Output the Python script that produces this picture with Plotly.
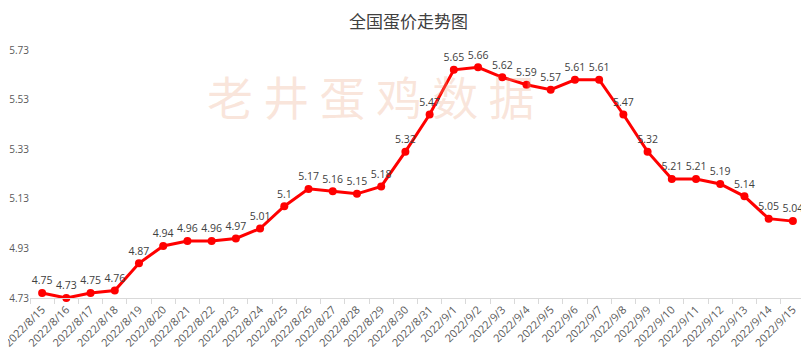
import plotly.graph_objects as go

dates = ["2022/8/15", "2022/8/16", "2022/8/17", "2022/8/18", "2022/8/19", "2022/8/20",
         "2022/8/21", "2022/8/22", "2022/8/23", "2022/8/24", "2022/8/25", "2022/8/26",
         "2022/8/27", "2022/8/28", "2022/8/29", "2022/8/30", "2022/8/31", "2022/9/1",
         "2022/9/2", "2022/9/3", "2022/9/4", "2022/9/5", "2022/9/6", "2022/9/7",
         "2022/9/8", "2022/9/9", "2022/9/10", "2022/9/11", "2022/9/12", "2022/9/13",
         "2022/9/14", "2022/9/15"]
prices = [4.75, 4.73, 4.75, 4.76, 4.87, 4.94, 4.96, 4.96, 4.97, 5.01, 5.1, 5.17,
          5.16, 5.15, 5.18, 5.32, 5.47, 5.65, 5.66, 5.62, 5.59, 5.57, 5.61, 5.61,
          5.47, 5.32, 5.21, 5.21, 5.19, 5.14, 5.05, 5.04]
y_ticks = [4.73, 4.93, 5.13, 5.33, 5.53, 5.73]
title = "全国蛋价走势图"
watermark = "老 井 蛋 鸡 数 据"

fig = go.Figure()
fig.add_trace(go.Scatter(
    x=dates, y=prices, mode="lines+markers+text",
    line=dict(color="#FF0000", width=3),
    marker=dict(color="#FF0000", size=8),
    text=[f"{v:g}" for v in prices], textposition="top center",
    textfont=dict(family="Open Sans, Noto Sans, sans-serif", size=10.5, color="#404040"),
    cliponaxis=False, hoverinfo="x+y",
))

fig.add_annotation(
    text=watermark, xref="paper", yref="paper", x=0.44, y=0.82,
    xanchor="center", yanchor="middle",
    showarrow=False, textangle=0,
    font=dict(family="Noto Sans CJK SC", size=46, color="rgba(235,165,130,0.28)"),
)

fig.update_layout(
    width=801, height=349,
    margin=dict(l=22, r=4, t=42, b=59),
    paper_bgcolor="white", plot_bgcolor="white",
    showlegend=False,
    title=dict(text=title, x=0.5, xanchor="center", y=0.96, yanchor="middle",
               font=dict(family="Noto Sans CJK SC", size=17, color="#404040")),
    xaxis=dict(type="category", tickangle=-45, showgrid=False, automargin=False,
               showline=True, linecolor="#D9D9D9", linewidth=1,
               ticks="outside", ticklen=5, tickcolor="#D9D9D9",
               tickson="boundaries",
               tickfont=dict(family="Open Sans, Noto Sans, sans-serif", size=11, color="#595959"),
               range=[-0.5, 31.5]),
    yaxis=dict(range=[4.73, 5.73], tickvals=y_ticks, ticktext=[f"{v:.2f}" for v in y_ticks],
               showgrid=False, zeroline=False, showline=False, automargin=False,
               ticklabelstandoff=0,
               tickfont=dict(family="Open Sans, Noto Sans, sans-serif", size=10, color="#595959")),
)

fig.write_html("out.html")
